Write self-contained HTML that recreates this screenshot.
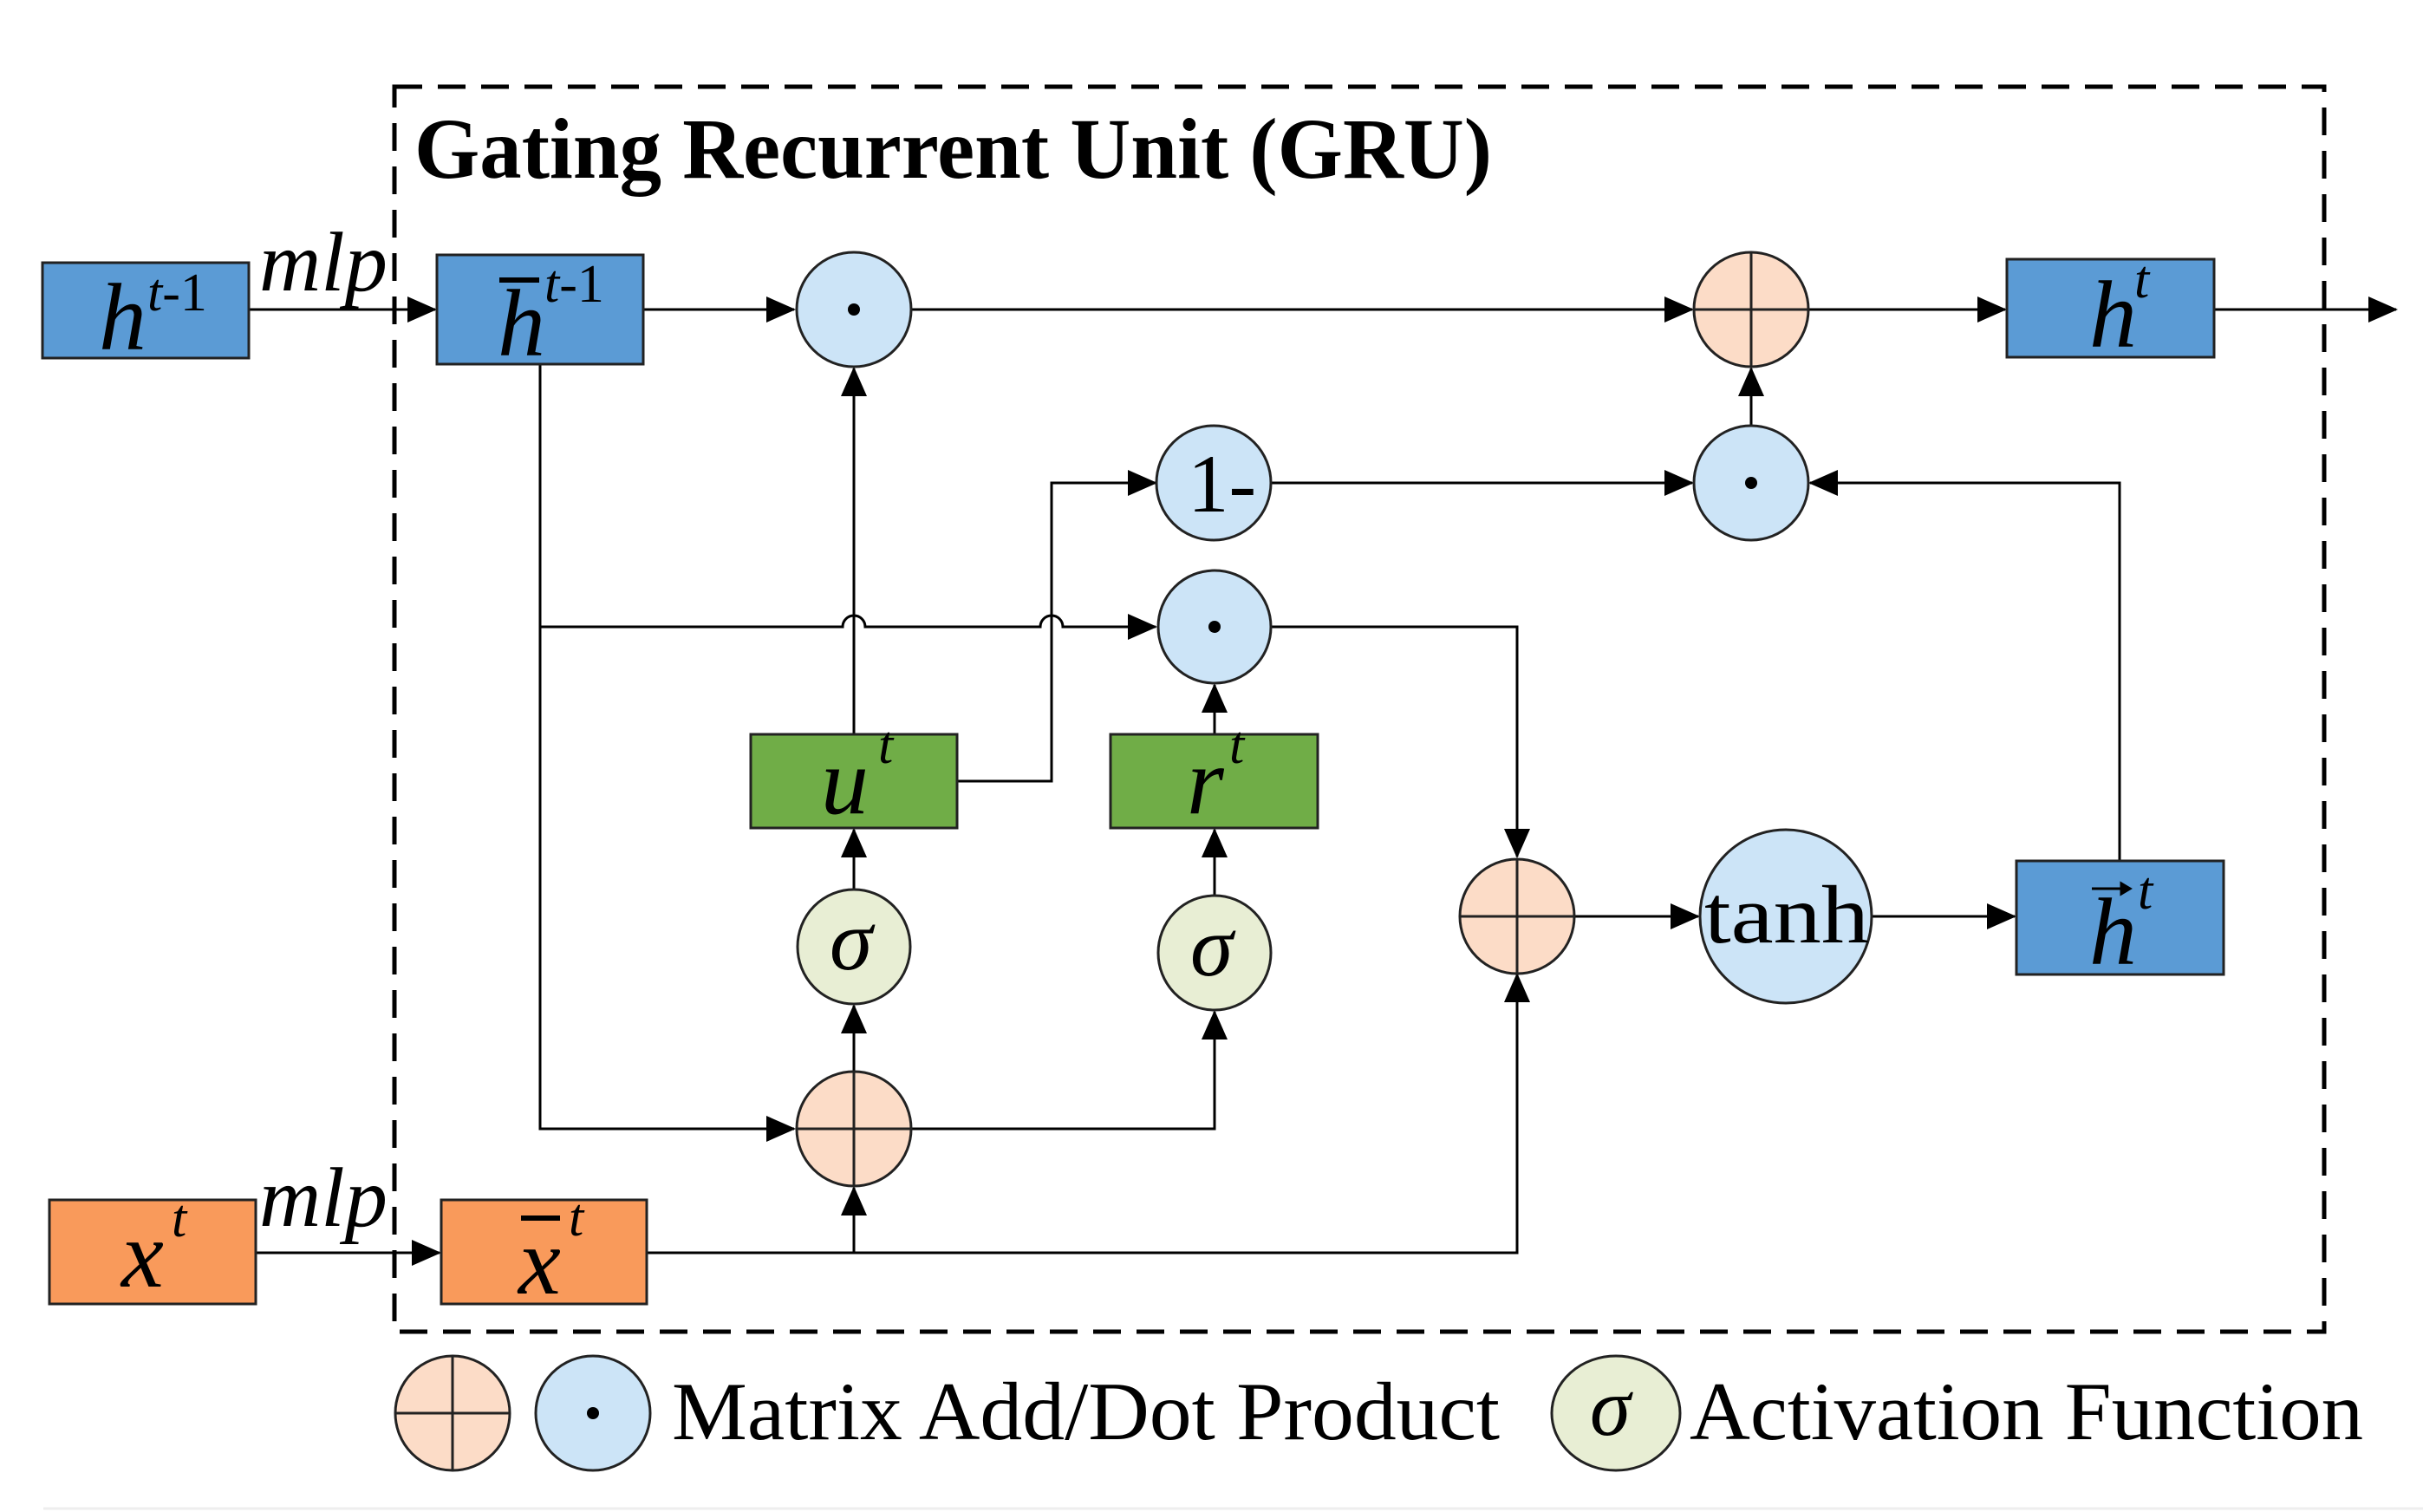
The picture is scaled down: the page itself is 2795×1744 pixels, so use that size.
<!DOCTYPE html>
<html><head><meta charset="utf-8"><style>
html,body{margin:0;padding:0;background:#fff;}
svg{display:block;}
text{font-family:"Liberation Serif",serif;}
</style></head><body>
<svg width="2795" height="1744" viewBox="0 0 2795 1744" xmlns="http://www.w3.org/2000/svg">
<defs>
<marker id="a" markerUnits="userSpaceOnUse" markerWidth="34" markerHeight="30" refX="32" refY="15" orient="auto">
<path d="M0,0 L34,15 L0,30 Z" fill="#000"/>
</marker>
</defs>
<g stroke="#000" stroke-width="3" fill="none">
<!-- dashed box -->
<rect x="455" y="100" width="2226" height="1436" stroke-width="5" stroke-dasharray="32,18"/>
<!-- top line -->
<line x1="287" y1="357" x2="502" y2="357" marker-end="url(#a)"/>
<line x1="742" y1="357" x2="916" y2="357" marker-end="url(#a)"/>
<line x1="1050" y1="357" x2="1952" y2="357" marker-end="url(#a)"/>
<line x1="2086" y1="357" x2="2313" y2="357" marker-end="url(#a)"/>
<line x1="2554" y1="357" x2="2764" y2="357" marker-end="url(#a)"/>
<!-- dot right -> plus top -->
<line x1="2020" y1="491" x2="2020" y2="425" marker-end="url(#a)"/>
<!-- 1- -> dot right -->
<line x1="1466" y1="557" x2="1952" y2="557" marker-end="url(#a)"/>
<!-- htilde -> dot right -->
<polyline points="2445,993 2445,557 2088,557" marker-end="url(#a)"/>
<!-- u -> dot1 -->
<line x1="985" y1="847" x2="985" y2="425" marker-end="url(#a)"/>
<!-- u -> 1- -->
<polyline points="1104,901 1213,901 1213,557 1333,557" marker-end="url(#a)"/>
<!-- hbar branch with hops -->
<polyline points="623,420 623,1302 916,1302" marker-end="url(#a)"/>
<path d="M623,723 L972,723 A13,13 0 0 1 998,723 L1200,723 A13,13 0 0 1 1226,723 L1333,723" marker-end="url(#a)"/>
<!-- r -> dot mid -->
<line x1="1401" y1="847" x2="1401" y2="790" marker-end="url(#a)"/>
<!-- dot mid -> plus right -->
<polyline points="1466,723 1750,723 1750,988" marker-end="url(#a)"/>
<!-- sigma1 -> u -->
<line x1="985" y1="1026" x2="985" y2="957" marker-end="url(#a)"/>
<line x1="985" y1="1236" x2="985" y2="1160" marker-end="url(#a)"/>
<!-- plus bl -> sigma2 -->
<polyline points="1050,1302 1401,1302 1401,1167" marker-end="url(#a)"/>
<line x1="1401" y1="1033" x2="1401" y2="957" marker-end="url(#a)"/>
<!-- x -->
<line x1="295" y1="1445" x2="507" y2="1445" marker-end="url(#a)"/>
<polyline points="746,1445 1750,1445 1750,1124" marker-end="url(#a)"/>
<line x1="985" y1="1445" x2="985" y2="1370" marker-end="url(#a)"/>
<!-- plus right -> tanh -> htilde -->
<line x1="1816" y1="1057" x2="1959" y2="1057" marker-end="url(#a)"/>
<line x1="2159" y1="1057" x2="2324" y2="1057" marker-end="url(#a)"/>
</g>
<!-- boxes -->
<g stroke="#222" stroke-width="3">
<rect x="49" y="303" width="238" height="110" fill="#5b9bd5"/>
<rect x="504" y="294" width="238" height="126" fill="#5b9bd5"/>
<rect x="2315" y="299" width="239" height="113" fill="#5b9bd5"/>
<rect x="2326" y="993" width="239" height="131" fill="#5b9bd5"/>
<rect x="866" y="847" width="238" height="108" fill="#70ad47"/>
<rect x="1281" y="847" width="239" height="108" fill="#70ad47"/>
<rect x="57" y="1384" width="238" height="120" fill="#f99a5b"/>
<rect x="509" y="1384" width="237" height="120" fill="#f99a5b"/>
</g>
<!-- circles -->
<g stroke="#222" stroke-width="3">
<ellipse cx="985" cy="357" rx="66" ry="66" fill="#cce4f7"/>
<ellipse cx="2020" cy="357" rx="66" ry="66" fill="#fcdcc7"/>
<ellipse cx="1400" cy="557" rx="66" ry="66" fill="#cce4f7"/>
<ellipse cx="2020" cy="557" rx="66" ry="66" fill="#cce4f7"/>
<ellipse cx="1401" cy="723" rx="65" ry="65" fill="#cce4f7"/>
<ellipse cx="985" cy="1092" rx="65" ry="66" fill="#e8eed4"/>
<ellipse cx="1401" cy="1099" rx="65" ry="66" fill="#e8eed4"/>
<ellipse cx="985" cy="1302" rx="66" ry="66" fill="#fcdcc7"/>
<ellipse cx="1750" cy="1057" rx="66" ry="66" fill="#fcdcc7"/>
<ellipse cx="2060" cy="1057" rx="99" ry="100" fill="#cce4f7"/>
<ellipse cx="522" cy="1630" rx="66" ry="66" fill="#fcdcc7"/>
<ellipse cx="684" cy="1630" rx="66" ry="66" fill="#cce4f7"/>
<ellipse cx="1864" cy="1630" rx="74" ry="66" fill="#e8eed4"/>
</g>
<!-- plus crosses -->
<g stroke="#222" stroke-width="3">
<path d="M2020,291V423M1954,357H2086"/>
<path d="M985,1236V1368M919,1302H1051"/>
<path d="M1750,991V1123M1684,1057H1816"/>
<path d="M522,1564V1696M456,1630H588"/>
</g>
<!-- dots -->
<g fill="#000">
<circle cx="985" cy="357" r="7"/>
<circle cx="2020" cy="557" r="7"/>
<circle cx="1401" cy="723" r="7"/>
<circle cx="684" cy="1630" r="7"/>
</g>
<!-- labels -->
<g font-style="italic" fill="#000">
<text x="114" y="403" font-size="110">h</text>
<text x="170" y="358" font-size="62">t<tspan font-style="normal">-1</tspan></text>
<text x="574" y="410" font-size="110">h</text>
<text x="628" y="348" font-size="62">t<tspan font-style="normal">-1</tspan></text>
<text x="2410" y="400" font-size="110">h</text>
<text x="2462" y="343" font-size="62">t</text>
<text x="2410" y="1112" font-size="110">h</text>
<text x="2466" y="1048" font-size="62">t</text>
<text x="947" y="938" font-size="110">u</text>
<text x="1013" y="880" font-size="62">t</text>
<text x="1369" y="938" font-size="110">r</text>
<text x="1418" y="880" font-size="62">t</text>
<text x="140" y="1484" font-size="110">x</text>
<text x="198" y="1426" font-size="62">t</text>
<text x="598" y="1492" font-size="110">x</text>
<text x="656" y="1425" font-size="62">t</text>
<text x="299" y="335" font-size="98" textLength="148" lengthAdjust="spacingAndGlyphs">mlp</text>
<text x="299" y="1414" font-size="98" textLength="148" lengthAdjust="spacingAndGlyphs">mlp</text>
<text x="957" y="1118" font-size="100">σ</text>
<text x="1373" y="1125" font-size="100">σ</text>
<text x="1834" y="1655" font-size="95">σ</text>
</g>
<!-- bars -->
<g stroke="#000" stroke-width="6">
<line x1="576" y1="323" x2="622" y2="323"/>
<line x1="601" y1="1405" x2="646" y2="1405"/>
</g>
<g stroke="#000" stroke-width="3" fill="#000">
<line x1="2413" y1="1025" x2="2447" y2="1025"/>
<path d="M2447,1019 L2457,1025 L2447,1031 Z"/>
</g>
<text x="1370" y="590" font-size="95" fill="#000">1-</text>
<text x="1966" y="1087" font-size="95" fill="#000" textLength="190" lengthAdjust="spacingAndGlyphs">tanh</text>
<text x="478" y="205" font-size="100" font-weight="bold" fill="#000" textLength="1243" lengthAdjust="spacingAndGlyphs">Gating Recurrent Unit (GRU)</text>
<text x="775" y="1660" font-size="95" fill="#000" textLength="955" lengthAdjust="spacingAndGlyphs">Matrix Add/Dot Product</text>
<text x="1949" y="1660" font-size="95" fill="#000" textLength="777" lengthAdjust="spacingAndGlyphs">Activation Function</text>
<line x1="50" y1="1740" x2="2795" y2="1740" stroke="#eee" stroke-width="3"/>
</svg>
</body></html>
